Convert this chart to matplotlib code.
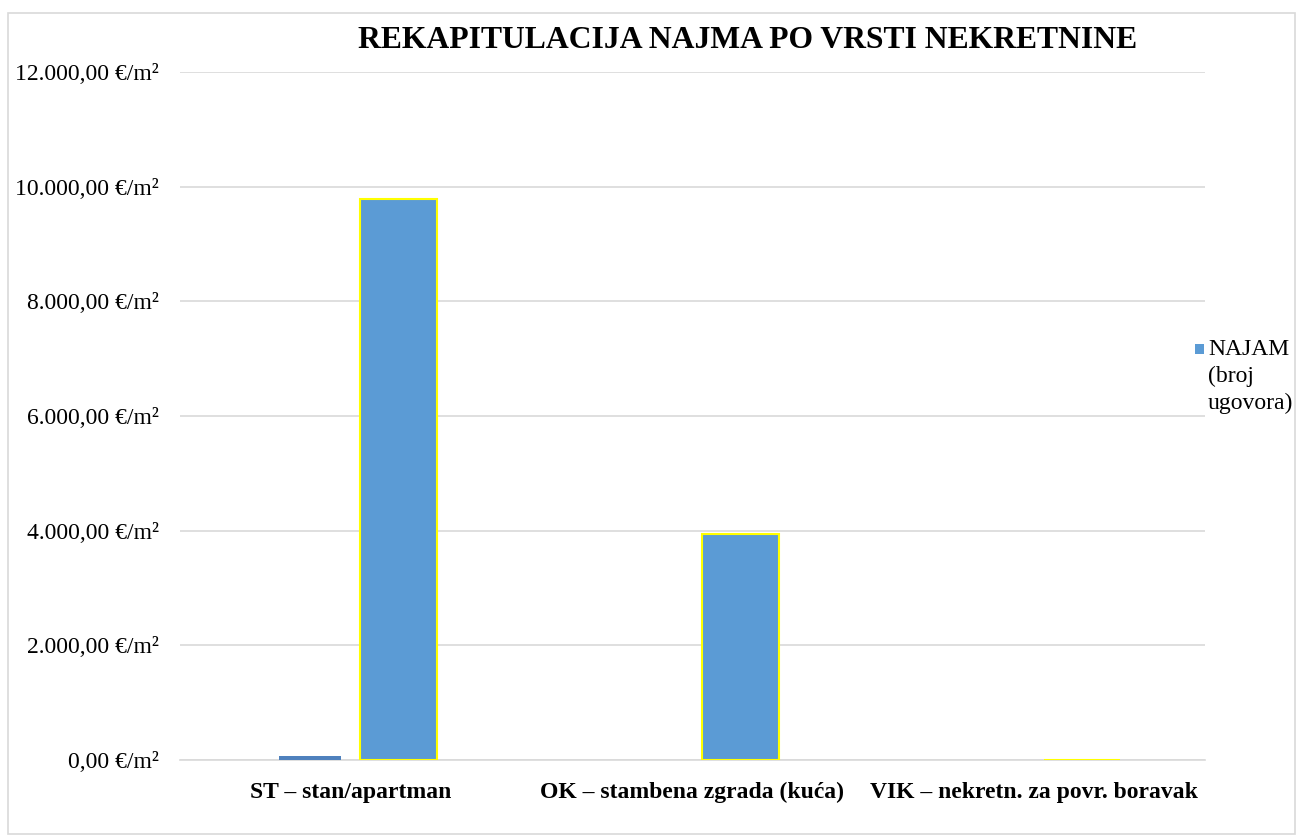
import matplotlib.pyplot as plt
import numpy as np
from matplotlib.patches import Rectangle

kategorije = ['ST – stan/apartman', 'OK – stambena zgrada (kuća)', 'VIK – nekretn. za povr. boravak']
prva_serija = [70, 0, 0]          # mali stupac, nije u legendi
najam = [9780, 3950, 0]           # NAJAM (broj ugovora)
y_ticks = [0, 2000, 4000, 6000, 8000, 10000, 12000]


def fmt(v):
    s = f'{v:,.2f}'.replace(',', 'X').replace('.', ',').replace('X', '.')
    return s + ' €/m²'


plt.rcParams['font.family'] = ['Liberation Serif', 'DejaVu Serif']

fig = plt.figure(figsize=(13.03, 8.38), dpi=100)
ax = fig.add_axes([180 / 1303, 1 - 760 / 838, 1025 / 1303, 688 / 838])

x = np.arange(len(kategorije))
ax.bar(x - 0.12, prva_serija, width=0.18, color='#4f81bd', zorder=3)
ax.bar(x + 0.14, najam, width=0.225, color='#5b9bd5', edgecolor='#ffff00',
       linewidth=1.5, zorder=3)

ax.set_xlim(-0.5, 2.5)
ax.set_ylim(0, 12000)
ax.set_yticks(y_ticks)
ax.set_yticklabels([fmt(v) for v in y_ticks], fontsize=17)
ax.set_xticks(x)
ax.set_xticklabels(kategorije, fontsize=17, fontweight='bold')
ax.tick_params(axis='y', length=0, pad=15)
ax.tick_params(axis='x', length=0, pad=16)
ax.grid(axis='y', color='#d9d9d9', linewidth=1.2, zorder=0)
for s in ['top', 'right', 'left']:
    ax.spines[s].set_visible(False)
ax.spines['bottom'].set_color('#d9d9d9')
ax.spines['bottom'].set_linewidth(1.2)

fig.text(748 / 1303, 1 - 41 / 838, 'REKAPITULACIJA NAJMA PO VRSTI NEKRETNINE',
         ha='center', va='center', fontsize=22.8, fontweight='bold')

# legenda
fig.patches.append(Rectangle((1195 / 1303, 1 - 354 / 838), 9 / 1303, 10 / 838,
                             transform=fig.transFigure, facecolor='#5b9bd5',
                             edgecolor='none'))
fig.text(1208 / 1303, 1 - 339 / 838, 'NAJAM\n(broj\nugovora)', ha='left', va='top',
         fontsize=17, linespacing=1.35)

fig.patches.append(Rectangle((8 / 1303, 0.005), 1 - 16 / 1303, 1 - 13 / 838 - 0.005,
                             transform=fig.transFigure, fill=False,
                             edgecolor='#d9d9d9', linewidth=1.2))

plt.savefig('out.png', dpi=100)
plt.close()
